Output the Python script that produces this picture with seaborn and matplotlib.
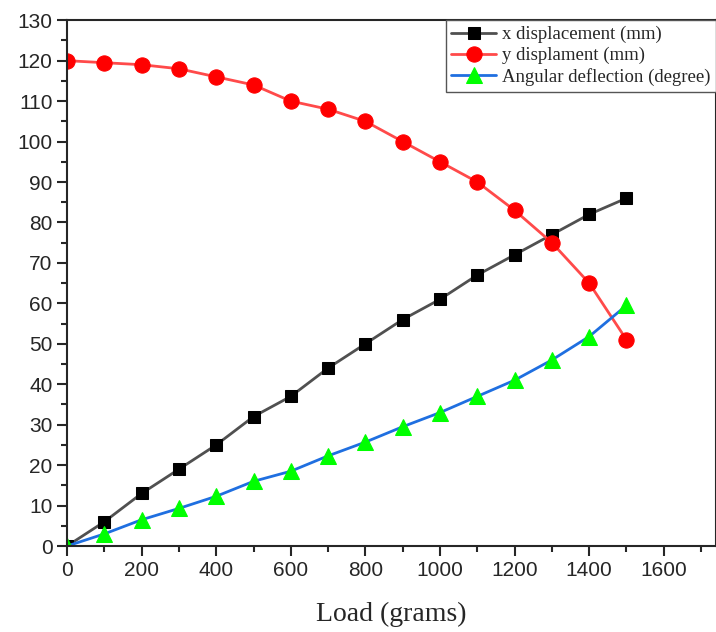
import pandas as pd
import matplotlib.pyplot as plt
import seaborn as sns
from matplotlib.ticker import MultipleLocator

# Data
load = [0, 100, 200, 300, 400, 500, 600, 700, 800, 900, 1000, 1100, 1200, 1300, 1400, 1500]
x_disp = [0, 6, 13, 19, 25, 32, 37, 44, 50, 56, 61, 67, 72, 77, 82, 86]
y_disp = [120, 119.5, 119, 118, 116, 114, 110, 108, 105, 100, 95, 90, 83, 75, 65, 51]
angle = [0, 3, 6.5, 9.3, 12.3, 16, 18.5, 22.3, 25.7, 29.5, 33, 37, 41, 46, 51.8, 59.5]

df = pd.DataFrame({"Load": load, "x": x_disp, "y": y_disp, "a": angle})

sns.set_style("ticks")
plt.rcParams["font.family"] = ["Liberation Sans", "DejaVu Sans"]

fig = plt.figure(figsize=(7.16, 6.32), dpi=100)
ax = fig.add_axes([0.0936, 0.136, 0.9064, 0.832])

sns.lineplot(data=df, x="Load", y="x", ax=ax, color="#505050", lw=2,
             marker="s", markersize=9, markerfacecolor="black", markeredgecolor="black",
             label="x displacement (mm)")
sns.lineplot(data=df, x="Load", y="y", ax=ax, color="#ff4a4a", lw=2,
             marker="o", markersize=11, markerfacecolor="red", markeredgecolor="red",
             label="y displament (mm)")
sns.lineplot(data=df, x="Load", y="a", ax=ax, color="#1f6fe0", lw=2,
             marker="^", markersize=11, markerfacecolor="#00ff00", markeredgecolor="#00ff00",
             label="Angular deflection (degree)")

ax.set_xlim(0, 1740)
ax.set_ylim(0, 130)
ax.xaxis.set_major_locator(MultipleLocator(200))
ax.xaxis.set_minor_locator(MultipleLocator(100))
ax.yaxis.set_major_locator(MultipleLocator(10))
ax.yaxis.set_minor_locator(MultipleLocator(5))
ax.tick_params(which="major", direction="out", length=7, width=1.5, labelsize=15)
ax.tick_params(which="minor", direction="out", length=4, width=1.5)
for s in ax.spines.values():
    s.set_linewidth(1.5)

ax.set_xlabel("Load (grams)", family=["Liberation Serif"], fontsize=20, labelpad=16)
ax.set_ylabel("")

leg = ax.legend(loc="upper right", borderaxespad=0, fancybox=False, framealpha=1,
                edgecolor="#555555", prop={"family": "Liberation Serif", "size": 13.5},
                handlelength=2.4, handletextpad=0.3, labelspacing=0.2, borderpad=0.3)
leg.get_frame().set_linewidth(1)

fig.savefig("out.png", dpi=100)
